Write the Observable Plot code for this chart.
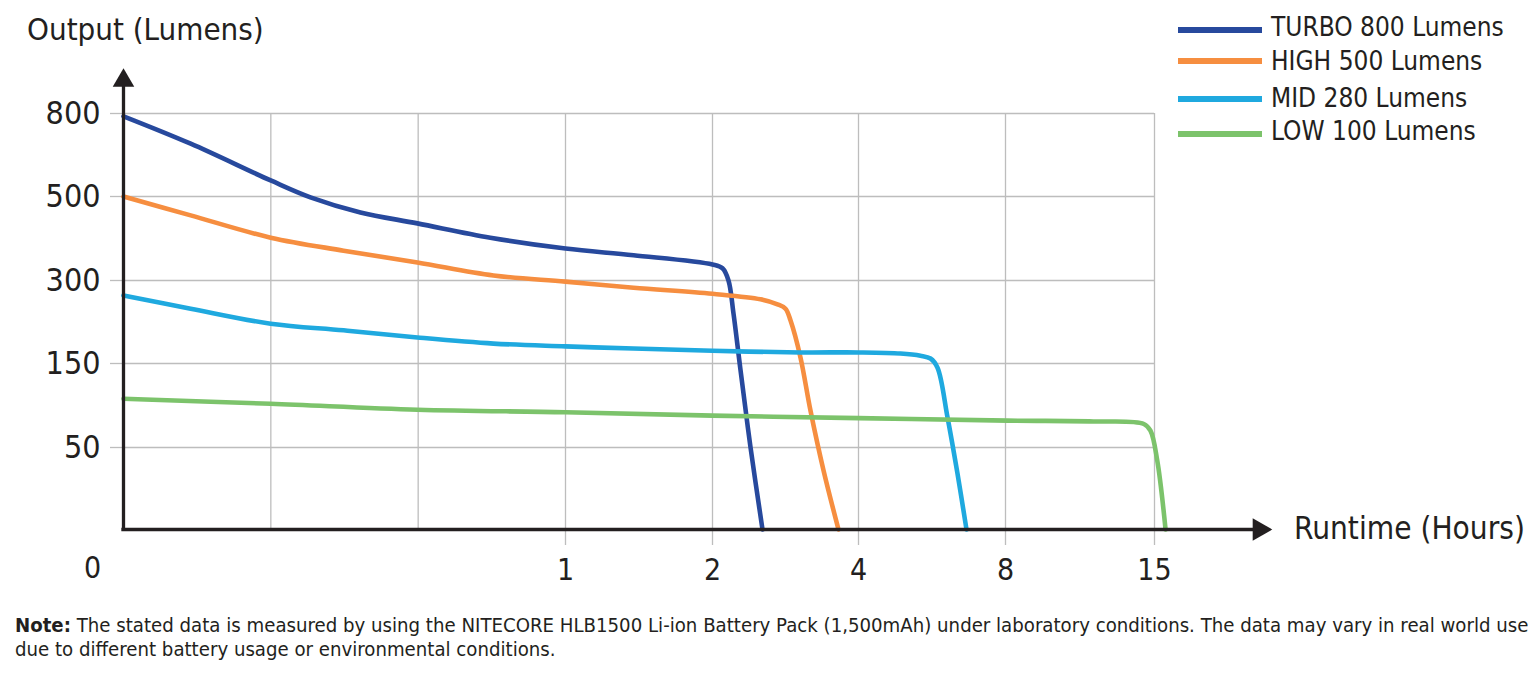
<!DOCTYPE html>
<html>
<head>
<meta charset="utf-8">
<script src="https://cdn.jsdelivr.net/npm/d3@7"></script>
<script src="https://cdn.jsdelivr.net/npm/@observablehq/plot@0.6"></script>
<style>
  body { margin: 0; background: #fff; }
  #wrap { position: relative; width: 1540px; height: 673px; overflow: hidden;
          font-family: 'DejaVu Sans Condensed', 'DejaVu Sans', sans-serif; color: #231f20; }
  #wrap svg { position: absolute; left: 0; top: 0; }
  .abs { position: absolute; white-space: nowrap; line-height: 1; }
</style>
</head>
<body>
<div id="wrap"></div>
<script>
// ---- data (hours, lumens) ----
const seriesNames = ["TURBO 800 Lumens", "HIGH 500 Lumens", "MID 280 Lumens", "LOW 100 Lumens"];
const seriesColors = ["#27499d", "#f68e40", "#1fa9df", "#7cc36b"];

const turboHours = [0, 0.152, 0.333, 0.423, 0.536, 0.665, 0.830, 1.0, 1.463, 2.0, 2.137, 2.219, 2.288, 2.384, 2.521, 2.685];
const turboLumens = [790, 691, 558, 498, 462, 436, 402, 376, 360, 338, 329, 300, 240, 142, 50, 0];

const highHours = [0, 0.152, 0.333, 0.498, 0.665, 0.837, 1.0, 1.463, 2.0, 2.658, 2.890, 3.0, 3.068, 3.205, 3.342, 3.521, 3.726];
const highLumens = [500, 455, 402, 371, 343, 312, 298, 287, 276, 266, 257, 249, 228, 161, 94, 36, 0];

const midHours = [0, 0.152, 0.333, 0.498, 0.665, 0.837, 1.0, 1.463, 2.0, 3.205, 4.0, 5.143, 5.687, 5.959, 6.150, 6.422, 6.694, 6.939];
const midLumens = [273, 249, 222, 210, 197, 186, 181, 177, 173, 170, 170, 168, 164, 159, 145, 86, 34, 0];

const lowHours = [0, 0.333, 0.665, 1.0, 2.0, 4.0, 8.09, 12.13, 14.50, 14.81, 15.13, 15.52];
const lowLumens = [108, 102, 95, 92, 88, 85, 82, 81, 78, 70, 42, 0];

// axis ticks (non-linear, evenly spaced in the picture)
const xTickValues = [1, 2, 4, 8, 15];
const xGridValues = [1/3, 2/3, 1, 2, 4, 8, 15];
const yTickValues = [50, 150, 300, 500, 800];
const xAxisEnd = 19.92;   // hours, arrow head
const yAxisEnd = 919;     // lumens, arrow head

const titleText = "Output (Lumens)";
const xTitleText = "Runtime (Hours)";
const noteBold = "Note:";
const noteLine1 = " The stated data is measured by using the NITECORE HLB1500 Li-ion Battery Pack (1,500mAh) under laboratory conditions. The data may vary in real world use";
const noteLine2 = "due to different battery usage or environmental conditions.";

// ---- build ----
const hoursList = [turboHours, highHours, midHours, lowHours];
const lumensList = [turboLumens, highLumens, midLumens, lowLumens];
const rows = hoursList.map((hs, i) => hs.map((h, j) => ({series: seriesNames[i], h, lm: lumensList[i][j]})));

const FONT = "'DejaVu Sans Condensed', 'DejaVu Sans', sans-serif";
const INK = "#231f20";
const GRID = "#bdbdbd";

const chart = Plot.plot({
  width: 1540,
  height: 600,
  marginLeft: 123,
  marginRight: 386,
  marginTop: 113,
  marginBottom: 71,
  style: {fontFamily: FONT, color: INK, background: "transparent"},
  x: {type: "linear", domain: [0, 1, 2, 4, 8, 15], range: [123, 565, 712, 858, 1005, 1154]},
  y: {type: "linear", domain: [0, 50, 150, 300, 500, 800], range: [529, 447, 363, 280, 196, 113]},
  marks: [
    Plot.ruleX(xGridValues, {y1: 0, y2: 800, stroke: GRID, strokeWidth: 1.3}),
    Plot.ruleY(yTickValues, {x1: 0, x2: 15, stroke: GRID, strokeWidth: 1.3}),
    Plot.axisY({ticks: yTickValues, tickSize: 13, tickPadding: 10, stroke: GRID, strokeWidth: 1.3, fill: INK,
                fontSize: 32, tickFormat: d => String(d), label: null}),
    Plot.axisX({ticks: xTickValues, tickSize: 16, tickPadding: 13, stroke: GRID, strokeWidth: 1.3, fill: INK,
                fontSize: 30, tickFormat: d => String(d), label: null}),
    Plot.text([0], {x: 0, y: 0, text: d => String(d), dx: -31, dy: 39, fontSize: 30, fill: INK, lineAnchor: "middle"}),
    ...rows.map((r, i) => Plot.line(r, {x: "h", y: "lm", stroke: seriesColors[i], strokeWidth: 4.6, curve: "catmull-rom"})),
    Plot.ruleY([0], {x1: 0, x2: xAxisEnd, stroke: INK, strokeWidth: 3.3, strokeLinecap: "square"}),
    Plot.ruleX([0], {y1: 0, y2: yAxisEnd, stroke: INK, strokeWidth: 3.3, strokeLinecap: "square"}),
    Plot.dot([0], {x: xAxisEnd, y: 0, symbol: "triangle", r: 8.4, fill: INK, stroke: "none", rotate: 90}),
    Plot.dot([0], {x: 0, y: yAxisEnd, symbol: "triangle", r: 8.0, fill: INK, stroke: "none"})
  ]
});

const wrap = document.getElementById("wrap");
wrap.appendChild(chart);

function addText(txt, left, top, size, extra) {
  const d = document.createElement("div");
  d.className = "abs";
  d.style.left = left + "px";
  d.style.top = top + "px";
  d.style.fontSize = size + "px";
  if (extra) Object.assign(d.style, extra);
  d.textContent = txt;
  wrap.appendChild(d);
  return d;
}

// title and axis title
addText(titleText, 27, 14, 31);
addText(xTitleText, 1294, 513, 31.3);

// legend
const legendLineY = [30, 61, 99, 134];
const legendTextTop = [14, 48, 85, 118];
seriesNames.forEach((name, i) => {
  const ln = document.createElement("div");
  ln.style.cssText = `position:absolute;left:1178px;width:84px;height:5.5px;top:${legendLineY[i] - 2.75}px;background:${seriesColors[i]};`;
  wrap.appendChild(ln);
  addText(name, 1271, legendTextTop[i], 26);
});

// note
const note = document.createElement("div");
note.className = "abs";
note.style.cssText += "left:15px;top:613px;font-size:20.2px;line-height:24px;";
const b = document.createElement("b");
b.textContent = noteBold;
note.appendChild(b);
note.appendChild(document.createTextNode(noteLine1));
note.appendChild(document.createElement("br"));
note.appendChild(document.createTextNode(noteLine2));
wrap.appendChild(note);
</script>
</body>
</html>
